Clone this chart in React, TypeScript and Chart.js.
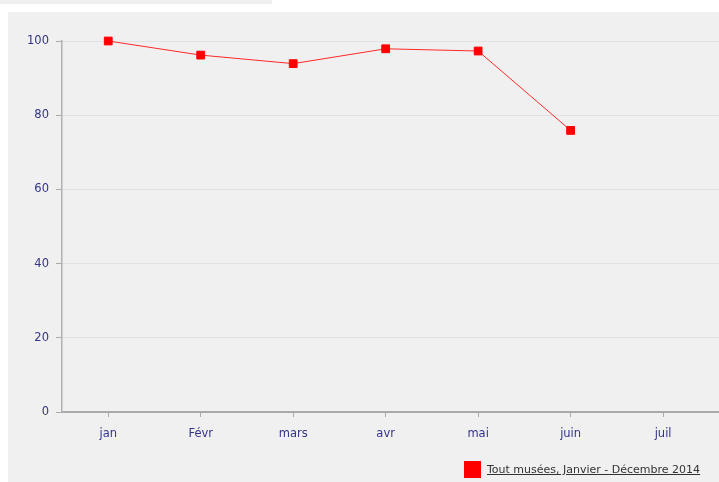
import React, { useEffect, useRef } from "react";
import { Chart, registerables } from "chart.js";

Chart.register(...registerables);

const categories = ["jan", "Févr", "mars", "avr", "mai", "juin", "juil"];
const values = [100, 96.2, 93.9, 97.9, 97.3, 75.9];
const yTicks = [0, 20, 40, 60, 80, 100];
const seriesLabel = "Tout musées, Janvier - Décembre 2014";

const FONT = "'DejaVu Sans', Verdana, sans-serif";
const TICK_COLOR = "#33338a";

export default function App() {
  const ref = useRef<HTMLCanvasElement | null>(null);

  useEffect(() => {
    if (!ref.current) return;
    const chart = new Chart(ref.current, {
      type: "line",
      data: {
        datasets: [
          {
            label: seriesLabel,
            data: values.map((v, i) => ({ x: i, y: v })),
            borderColor: "#ff2828",
            borderWidth: 1,
            backgroundColor: "#ff0000",
            pointBackgroundColor: "#ff0000",
            pointBorderColor: "#ff0000",
            pointBorderWidth: 1,
            pointStyle: "rect",
            pointRadius: 5.5,
            tension: 0,
            fill: false,
            clip: false as any,
          },
        ],
      },
      options: {
        animation: false,
        responsive: false,
        events: [],
        layout: { padding: { top: 29, right: 0, bottom: 0, left: 0 } },
        plugins: {
          legend: { display: false },
          tooltip: { enabled: false },
        },
        scales: {
          x: {
            type: "linear",
            min: -0.5,
            max: 6.61,
            afterBuildTicks: (scale: any) => {
              scale.ticks = categories.map((_, i) => ({ value: i }));
            },
            afterFit: (scale: any) => {
              scale.height = 70;
              scale.paddingRight = 0;
              scale.paddingLeft = 0;
            },
            grid: {
              drawOnChartArea: false,
              drawTicks: true,
              tickLength: 5,
              tickColor: "#aaaaaa",
            },
            border: { display: true, color: "#aaaaaa", width: 2 },
            ticks: {
              autoSkip: false,
              maxRotation: 0,
              padding: 10,
              color: TICK_COLOR,
              font: { family: FONT, size: 11.5 },
              callback: (v: any) => categories[Number(v)] ?? "",
            },
          },
          y: {
            type: "linear",
            min: 0,
            max: 100,
            afterBuildTicks: (scale: any) => {
              scale.ticks = yTicks.map((v) => ({ value: v }));
            },
            afterFit: (scale: any) => {
              scale.width = 54;
            },
            grid: {
              color: "#e2e2e2",
              lineWidth: 1,
              drawTicks: true,
              tickLength: 6,
              tickColor: "#aaaaaa",
            },
            border: { display: true, color: "#b0b0b0", width: 1.5 },
            ticks: {
              padding: 7,
              color: TICK_COLOR,
              font: { family: FONT, size: 11.5 },
            },
          },
        },
      },
    });
    return () => chart.destroy();
  }, []);

  return (
    <>
      <div
        style={{
          position: "absolute",
          left: 0,
          top: 0,
          width: 272,
          height: 4,
          background: "#efefef",
        }}
      />
      <div
        style={{
          position: "absolute",
          left: 8,
          top: 12,
          width: 711,
          height: 470,
          background: "#f0f0f0",
          overflow: "hidden",
        }}
      >
        <canvas
          ref={ref}
          width={718}
          height={470}
          style={{ width: 718, height: 470, display: "block" }}
        />
        <div
          style={{
            position: "absolute",
            left: 456,
            top: 449,
            display: "flex",
            alignItems: "center",
            height: 17,
          }}
        >
          <div style={{ width: 17, height: 17, background: "#ff0000" }} />
          <span
            style={{
              marginLeft: 6,
              font: `11px ${FONT}`,
              color: "#333333",
              textDecoration: "underline",
              whiteSpace: "nowrap",
            }}
          >
            {seriesLabel}
          </span>
        </div>
      </div>
    </>
  );
}
